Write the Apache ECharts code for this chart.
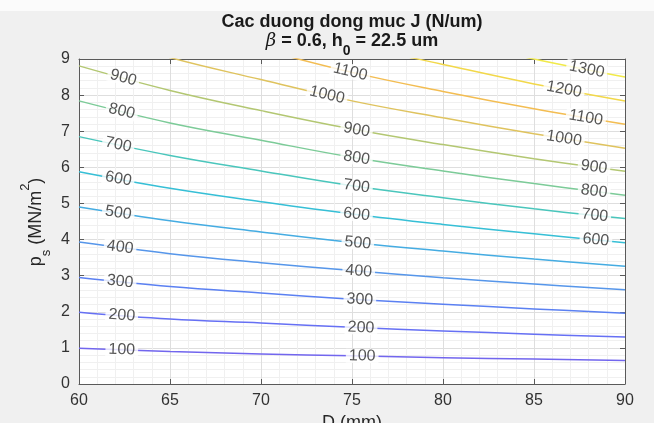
<!DOCTYPE html>
<html>
<head>
<meta charset="utf-8">
<script src="https://cdn.jsdelivr.net/npm/echarts@6/dist/echarts.min.js"></script>
<style>
html,body{margin:0;padding:0;background:#f0f0f0;}
#c{width:654px;height:423px;}
</style>
</head>
<body>
<div id="c"></div>
<script>
// ---- data ----
const D = [60, 65, 70, 75, 80, 85, 90];           // D (mm)
const xTicks = [60, 65, 70, 75, 80, 85, 90];
const yTicks = [0, 1, 2, 3, 4, 5, 6, 7, 8, 9];

const levels = [100, 200, 300, 400, 500, 600, 700, 800, 900, 1000, 1100, 1200, 1300];

// p_s (MN/m^2) of each contour at the D values above
const p100  = [0.99, 0.90, 0.83, 0.78, 0.73, 0.69, 0.65];
const p200  = [1.99, 1.80, 1.69, 1.57, 1.47, 1.38, 1.30];
const p300  = [2.95, 2.70, 2.52, 2.35, 2.21, 2.08, 1.96];
const p400  = [3.93, 3.61, 3.36, 3.14, 2.94, 2.77, 2.61];
const p500  = [4.90, 4.52, 4.21, 3.92, 3.68, 3.46, 3.26];
const p600  = [5.88, 5.42, 5.05, 4.71, 4.42, 4.16, 3.91];
const p700  = [6.85, 6.33, 5.90, 5.49, 5.16, 4.85, 4.58];
const p800  = [7.84, 7.23, 6.75, 6.28, 5.90, 5.55, 5.23];
const p900  = [8.81, 8.13, 7.57, 7.06, 6.63, 6.24, 5.89];
const p1000 = [9.80, 9.04, 8.43, 7.84, 7.37, 6.93, 6.53];
const p1100 = [10.78, 9.95, 9.27, 8.63, 8.10, 7.62, 7.19];
const p1200 = [11.76, 10.85, 10.11, 9.41, 8.85, 8.31, 7.84];
const p1300 = [12.74, 11.76, 10.95, 10.20, 9.58, 9.00, 8.50];
const contourP = [p100, p200, p300, p400, p500, p600, p700, p800, p900, p1000, p1100, p1200, p1300];

// inline contour labels: level and the D where it sits
const labelLevels = [900, 800, 700, 600, 500, 400, 300, 200, 100,
                     1100, 1000, 900, 800, 700, 600, 500, 400, 300, 200, 100,
                     1300, 1200, 1100, 1000, 900, 800, 700, 600];
const labelD = [62.44, 62.35, 62.16, 62.16, 62.16, 62.26, 62.26, 62.35, 62.35,
                74.91, 73.63, 75.25, 75.25, 75.25, 75.25, 75.32, 75.37, 75.43, 75.50, 75.56,
                87.90, 86.65, 87.85, 86.65, 88.30, 88.30, 88.34, 88.40];

const levelColors = ['#7266ee', '#6670f4', '#5b80f2', '#5696ea', '#45ace2', '#36bfd6',
                     '#4ac6bc', '#7ccb98', '#b3c772', '#dfc35e', '#f3bd52', '#f2d84a', '#f1ea48'];

// ---- chart ----
const FONT = 'Liberation Sans';
const chart = echarts.init(document.getElementById('c'), null, {renderer: 'canvas'});

function interpP(arr, d) {
  for (let i = 0; i < D.length - 1; i++) {
    if (d >= D[i] && d <= D[i + 1]) {
      const t = (d - D[i]) / (D[i + 1] - D[i]);
      return arr[i] + t * (arr[i + 1] - arr[i]);
    }
  }
  return arr[arr.length - 1];
}

const lineSeries = levels.map((lv, i) => ({
  type: 'line',
  name: String(lv),
  data: D.map((d, j) => [d, contourP[i][j]]),
  smooth: 0.4,
  showSymbol: false,
  symbol: 'none',
  clip: true,
  silent: true,
  z: 3,
  lineStyle: {color: levelColors[i], width: 1.5}
}));

function labelData(rotations) {
  return labelLevels.map((lv, k) => {
    const idx = levels.indexOf(lv);
    const d = labelD[k];
    return {
      value: [d, interpP(contourP[idx], d), String(lv)],
      label: {rotate: rotations ? rotations[k] : 0}
    };
  });
}

const xMin = xTicks[0], xMax = xTicks[xTicks.length - 1], xInt = xTicks[1] - xTicks[0];
const yMin = yTicks[0], yMax = yTicks[yTicks.length - 1], yInt = yTicks[1] - yTicks[0];

const axisLineStyle = {color: '#5a5a5a', width: 1};

const option = {
  animation: false,
  backgroundColor: '#f0f0f0',
  grid: {left: 79, right: 29, top: 59, bottom: 39, show: true, backgroundColor: '#ffffff', borderWidth: 0,
         containLabel: false, outerBoundsMode: 'none'},
  xAxis: [{
    type: 'value', min: xMin, max: xMax, interval: xInt,
    position: 'bottom',
    name: 'D (mm)', nameLocation: 'middle', nameGap: 24,
    nameTextStyle: {fontFamily: FONT, fontSize: 18, color: '#262626', verticalAlign: 'top'},
    axisLine: {show: true, onZero: false, lineStyle: axisLineStyle},
    axisTick: {show: true, inside: true, length: 5, lineStyle: axisLineStyle},
    axisLabel: {fontFamily: FONT, fontSize: 16, color: '#333', margin: 9},
    splitLine: {show: true, lineStyle: {color: '#dedede', width: 1}},
    minorTick: {show: true, splitNumber: 5, length: 0, lineStyle: {color: 'rgba(0,0,0,0)'}},
    minorSplitLine: {show: true, lineStyle: {color: '#f0f0f0', width: 1}}
  }, {
    type: 'value', min: xMin, max: xMax, interval: xInt,
    position: 'top',
    axisLine: {show: true, onZero: false, lineStyle: axisLineStyle},
    axisTick: {show: true, inside: true, length: 5, lineStyle: axisLineStyle},
    axisLabel: {show: false},
    splitLine: {show: false}
  }],
  yAxis: [{
    type: 'value', min: yMin, max: yMax, interval: yInt,
    position: 'left',
    axisLine: {show: true, onZero: false, lineStyle: axisLineStyle},
    axisTick: {show: true, inside: true, length: 5, lineStyle: axisLineStyle},
    axisLabel: {fontFamily: FONT, fontSize: 16, color: '#333', margin: 9},
    splitLine: {show: true, lineStyle: {color: '#dedede', width: 1}},
    minorTick: {show: true, splitNumber: 5, length: 0, lineStyle: {color: 'rgba(0,0,0,0)'}},
    minorSplitLine: {show: true, lineStyle: {color: '#f0f0f0', width: 1}}
  }, {
    type: 'value', min: yMin, max: yMax, interval: yInt,
    position: 'right',
    axisLine: {show: true, onZero: false, lineStyle: axisLineStyle},
    axisTick: {show: true, inside: true, length: 5, lineStyle: axisLineStyle},
    axisLabel: {show: false},
    splitLine: {show: false}
  }],
  graphic: [
    {type: 'rect', left: 0, top: 0, shape: {width: 654, height: 11}, style: {fill: '#fbfbfb'}, silent: true},
    {
      type: 'text', x: 352, y: 22,
      style: {text: 'Cac duong dong muc J (N/um)', fontFamily: FONT, fontSize: 18, fontWeight: 'bold',
              fill: '#1a1a1a', align: 'center', verticalAlign: 'middle'}
    },
    {
      type: 'text', x: 352, y: 24,
      style: {
        text: '{b|β}{n| = 0.6, h}{s|0}{n| = 22.5 um}',
        align: 'center', verticalAlign: 'top',
        rich: {
          b: {fontFamily: 'DejaVu Serif', fontStyle: 'italic', fontSize: 18, fill: '#1a1a1a', lineHeight: 34, verticalAlign: 'middle'},
          n: {fontFamily: FONT, fontSize: 18, fontWeight: 'bold', fill: '#1a1a1a', lineHeight: 34, verticalAlign: 'middle'},
          s: {fontFamily: FONT, fontSize: 14, fontWeight: 'bold', fill: '#1a1a1a', lineHeight: 20, verticalAlign: 'bottom'}
        }
      }
    },
    {
      type: 'text', x: 36, y: 222, rotation: Math.PI / 2,
      style: {
        text: '{n|p}{s|s}{n| (MN/m}{u|2}{n|)}',
        align: 'center', verticalAlign: 'middle',
        rich: {
          n: {fontFamily: FONT, fontSize: 18, fill: '#262626', lineHeight: 34, verticalAlign: 'middle'},
          s: {fontFamily: FONT, fontSize: 13, fill: '#262626', lineHeight: 20, verticalAlign: 'bottom'},
          u: {fontFamily: FONT, fontSize: 13, fill: '#262626', lineHeight: 20, verticalAlign: 'top'}
        }
      }
    }
  ],
  series: lineSeries.concat([{
    type: 'scatter',
    name: 'labels',
    data: labelData(null),
    symbolSize: 1,
    itemStyle: {color: 'rgba(0,0,0,0)'},
    silent: true,
    z: 5,
    label: {
      show: true, position: 'inside',
      formatter: p => p.value[2],
      fontFamily: FONT, fontSize: 16, color: '#2a2a2a',
      backgroundColor: '#ffffff', padding: [0, 3], lineHeight: 14,
      align: 'center', verticalAlign: 'middle'
    }
  }])
};

chart.setOption(option);

// rotate each label along its contour using the chart's own scales
const rotations = labelLevels.map((lv, k) => {
  const arr = contourP[levels.indexOf(lv)];
  const d = labelD[k];
  const a = chart.convertToPixel({gridIndex: 0}, [d - 0.6, interpP(arr, d - 0.6)]);
  const b = chart.convertToPixel({gridIndex: 0}, [d + 0.6, interpP(arr, d + 0.6)]);
  return Math.atan2(a[1] - b[1], b[0] - a[0]) * 180 / Math.PI;
});
chart.setOption({series: lineSeries.concat([{name: 'labels', type: 'scatter', data: labelData(rotations)}])});
</script>
</body>
</html>
